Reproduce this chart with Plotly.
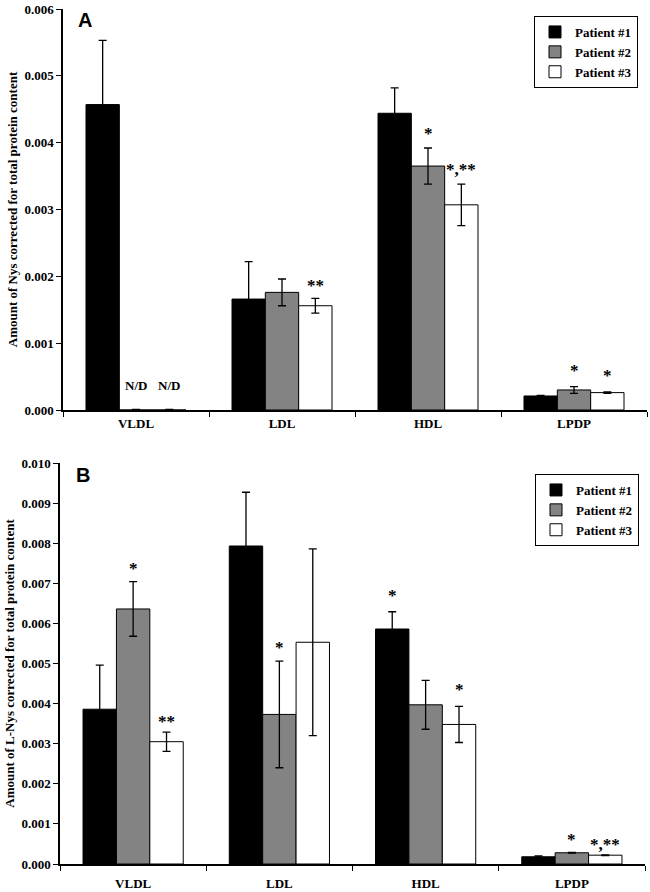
import plotly.graph_objects as go

categories = ["VLDL", "LDL", "HDL", "LPDP"]
patients = ["Patient #1", "Patient #2", "Patient #3"]
colors = ["#000000", "#838383", "#ffffff"]

# Panel A: Nys (N/D = not detected -> 0)
a_p1 = [0.00457, 0.00166, 0.00444, 0.00021]
a_p2 = [0.0, 0.00176, 0.00365, 0.00030]
a_p3 = [0.0, 0.00156, 0.00307, 0.00026]
a_e1 = [0.00096, 0.00056, 0.00038, 0.00001]
a_e2 = [0.00001, 0.00020, 0.00027, 0.00005]
a_e3 = [0.00001, 0.00011, 0.00031, 0.00001]

# Panel B: L-Nys
b_p1 = [0.00386, 0.00793, 0.00586, 0.00018]
b_p2 = [0.00636, 0.00373, 0.00397, 0.00028]
b_p3 = [0.00305, 0.00553, 0.00348, 0.00022]
b_e1 = [0.00110, 0.00134, 0.00043, 0.00002]
b_e2 = [0.00068, 0.00133, 0.00061, 0.00001]
b_e3 = [0.00024, 0.00233, 0.00045, 0.00001]

# annotations: (category index, patient index, text, pixel offset)
a_marks = [(0, 1, "N/D", 20), (0, 2, "N/D", 20), (1, 2, "**", 9), (2, 1, "*", 11),
           (2, 2, "*,**", 11), (3, 1, "*", 13), (3, 2, "*", 13)]
b_marks = [(0, 1, "*", 10), (0, 2, "**", 7), (1, 1, "*", 10), (2, 0, "*", 13),
           (2, 2, "*", 13), (3, 1, "*", 9), (3, 2, "*,**", 7)]

serif = "Liberation Serif"
sans = "Liberation Sans"

W, H = 650, 892


def px(x):
    return x / W


def py(y):
    return (H - y) / H


fig = go.Figure()

panels = [
    ("x", "y", "legend", [a_p1, a_p2, a_p3], [a_e1, a_e2, a_e3], a_marks),
    ("x2", "y2", "legend2", [b_p1, b_p2, b_p3], [b_e1, b_e2, b_e3], b_marks),
]
bargap = 0.315
barw = (1 - bargap) / 3
for xa, ya, lg, vals, errs, marks in panels:
    for j in range(3):
        fig.add_trace(go.Bar(
            x=categories, y=vals[j], name=patients[j], xaxis=xa, yaxis=ya, legend=lg,
            marker=dict(color=colors[j], line=dict(color="black", width=1)),
            error_y=dict(type="data", array=errs[j], visible=True, color="black",
                         thickness=1.3, width=4),
        ))
    for ci, pj, txt, off in marks:
        top = vals[pj][ci] + errs[pj][ci]
        fig.add_annotation(
            x=ci + (pj - 1) * barw, y=top, xref=xa, yref=ya, text=txt,
            showarrow=False, yanchor="bottom", yshift=off - 8 if txt != "N/D" else off - 6,
            font=dict(family=serif, size=17 if txt != "N/D" else 13, color="black", weight="bold"),
        )

axis_common = dict(showline=True, linecolor="black", linewidth=1.5, ticks="outside",
                   ticklen=5, tickcolor="black", tickwidth=1, showgrid=False, zeroline=False,
                   automargin=False, ticklabeloverflow="allow")

tickf = dict(family=serif, size=13, weight="bold", color="black")
legf = dict(family=serif, size=13, weight="bold", color="black")
fig.update_layout(
    width=W, height=H, autosize=False,
    margin=dict(l=0, r=0, t=0, b=0, autoexpand=False),
    paper_bgcolor="white", plot_bgcolor="white",
    barmode="group", bargap=bargap, bargroupgap=0,
    font=dict(family=serif, color="black", size=13),
    xaxis=dict(domain=[px(63), px(647)], anchor="y", tickson="boundaries",
               tickfont=tickf, ticklabelstandoff=1, **axis_common),
    yaxis=dict(domain=[py(410), py(9)], anchor="x", range=[0, 0.006],
               dtick=0.001, tickformat=".3f", tickfont=tickf,
               title=dict(text="Amount of Nys corrected for total protein content",
                          font=dict(family=serif, size=13, weight="bold", color="black"), standoff=4),
               **axis_common),
    xaxis2=dict(domain=[px(60), px(645)], anchor="y2", tickson="boundaries",
                tickfont=tickf, ticklabelstandoff=7, **axis_common),
    yaxis2=dict(domain=[py(864), py(463)], anchor="x2", range=[0, 0.010],
                dtick=0.001, tickformat=".3f", tickfont=tickf,
                title=dict(text="Amount of L-Nys corrected for total protein content",
                           font=dict(family=serif, size=13, weight="bold", color="black"), standoff=4),
                **axis_common),
    legend=dict(x=px(534), y=py(16), xanchor="left", yanchor="top",
                bordercolor="black", borderwidth=1, bgcolor="white",
                font=legf, itemwidth=30, tracegroupgap=0),
    legend2=dict(x=px(535), y=py(474), xanchor="left", yanchor="top",
                 bordercolor="black", borderwidth=1, bgcolor="white",
                 font=legf, itemwidth=30, tracegroupgap=0),
    showlegend=True,
)

fig.add_annotation(x=px(85), y=py(20), xref="paper", yref="paper", text="A",
                   xanchor="center", yanchor="middle", showarrow=False,
                   font=dict(family=sans, size=20, weight="bold", color="black"))
fig.add_annotation(x=px(83), y=py(475), xref="paper", yref="paper", text="B",
                   xanchor="center", yanchor="middle", showarrow=False,
                   font=dict(family=sans, size=20, weight="bold", color="black"))

# remove the browser's default 8px page margin so the figure fills the window exactly
fig.write_html(
    "out.html",
    config={"displayModeBar": False},
    post_script="document.body.style.margin='0px';document.body.style.overflow='hidden';",
)
